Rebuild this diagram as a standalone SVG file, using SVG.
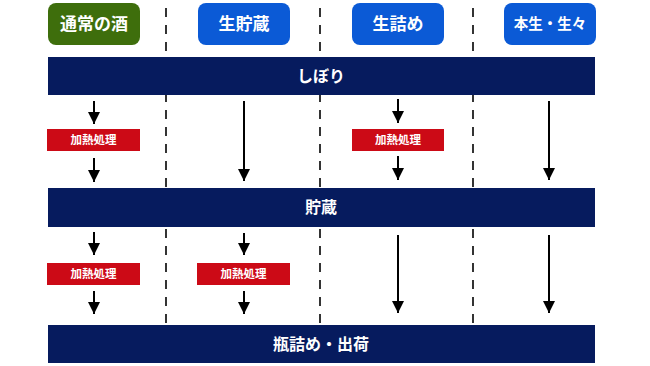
<svg xmlns="http://www.w3.org/2000/svg" width="650" height="366" viewBox="0 0 650 366">
<style>
.t{font-family:"Noto Sans CJK JP","Noto Sans",sans-serif;font-weight:bold;fill:#fff;text-anchor:middle}
.btn{font-size:17px}
.bar{font-size:16px}
.heat{font-size:11.5px}
.sep{stroke:#111;stroke-width:1.7;stroke-dasharray:9 8;fill:none}
.ar{stroke:#000;stroke-width:2;fill:none;marker-end:url(#ah)}
</style>
<defs>
<marker id="ah" markerUnits="userSpaceOnUse" markerWidth="14" markerHeight="12" refX="12" refY="6" orient="auto">
<path d="M0,0 L12,6 L0,12 z" fill="#000"/>
</marker>
</defs>
<rect width="650" height="366" fill="#fff"/>
<g id="separators">
<line class="sep" x1="166" y1="8" x2="166" y2="325"/>
<line class="sep" x1="320" y1="8" x2="320" y2="325"/>
<line class="sep" x1="473" y1="8" x2="473" y2="325"/>
</g>
<g id="h1"><rect x="48" y="3" width="92" height="42" rx="8" fill="#3e6e0c"/><text class="t btn" x="94" y="30">通常の酒</text></g>
<g id="h2"><rect x="198" y="3" width="92" height="42" rx="8" fill="#0b5ad6"/><text class="t btn" x="244" y="30">生貯蔵</text></g>
<g id="h3"><rect x="352" y="3" width="92" height="42" rx="8" fill="#0b5ad6"/><text class="t btn" x="398" y="30">生詰め</text></g>
<g id="h4"><rect x="504" y="3" width="92" height="42" rx="8" fill="#0b5ad6"/><text class="t" x="550" y="29" font-size="14.5">本生・生々</text></g>
<g id="b1"><rect x="48" y="57" width="547" height="38" fill="#061b5e"/><text class="t bar" x="321" y="82">しぼり</text></g>
<g id="b2"><rect x="48" y="188" width="547" height="39" fill="#061b5e"/><text class="t bar" x="321" y="213">貯蔵</text></g>
<g id="b3"><rect x="48" y="325" width="547" height="38" fill="#061b5e"/><text class="t bar" x="321" y="350">瓶詰め・出荷</text></g>
<g id="k1"><rect x="47" y="129" width="93" height="22" fill="#cc0a16"/><text class="t heat" x="93.5" y="144">加熱処理</text></g>
<g id="k2"><rect x="352" y="129" width="92" height="22" fill="#cc0a16"/><text class="t heat" x="398" y="144">加熱処理</text></g>
<g id="k3"><rect x="47" y="263" width="93" height="22" fill="#cc0a16"/><text class="t heat" x="93.5" y="278">加熱処理</text></g>
<g id="k4"><rect x="197" y="263" width="93" height="22" fill="#cc0a16"/><text class="t heat" x="243.5" y="278">加熱処理</text></g>
<g id="connectors">
<line class="ar" x1="94" y1="101" x2="94" y2="124"/>
<line class="ar" x1="94" y1="158" x2="94" y2="182"/>
<line class="ar" x1="244" y1="101" x2="244" y2="181"/>
<line class="ar" x1="398" y1="99" x2="398" y2="123"/>
<line class="ar" x1="398" y1="156" x2="398" y2="180"/>
<line class="ar" x1="549" y1="101" x2="549" y2="180"/>
<line class="ar" x1="94" y1="232" x2="94" y2="255"/>
<line class="ar" x1="94" y1="291" x2="94" y2="314"/>
<line class="ar" x1="244" y1="233" x2="244" y2="255"/>
<line class="ar" x1="244" y1="291" x2="244" y2="314"/>
<line class="ar" x1="398" y1="235" x2="398" y2="313"/>
<line class="ar" x1="549" y1="235" x2="549" y2="313"/>
</g>
</svg>
